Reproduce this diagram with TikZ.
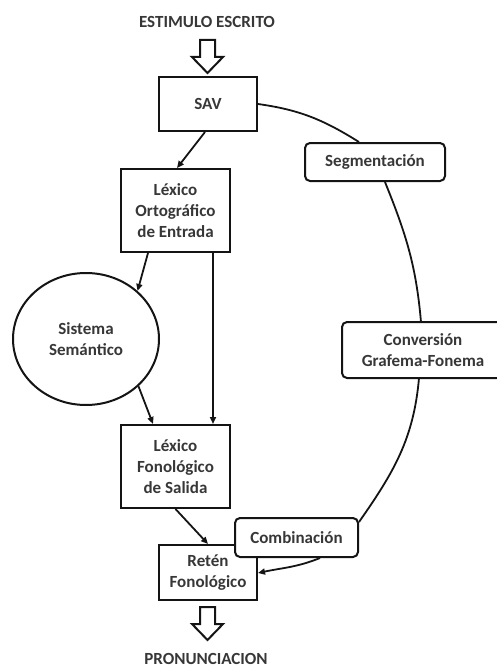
\documentclass[tikz,border=0pt]{standalone}
\usepackage{fontspec}
\setmainfont{Carlito}
\usepackage{tikz}
\usetikzlibrary{arrows.meta, positioning, shapes.geometric}
\definecolor{mydark}{RGB}{20,20,20}
\definecolor{mytext}{RGB}{55,55,55}
\newcommand{\figfont}{\fontsize{17}{20.7}\selectfont\bfseries}
\tikzset{
  block/.style={rectangle, draw=mydark, fill=white, text=mytext,
    align=center, font=\figfont, inner sep=0pt, line width=2pt},
  route/.style={rectangle, draw=mydark, fill=white, text=mytext,
    align=center, font=\figfont, inner sep=0pt, rounded corners=5pt, line width=2pt},
  semnode/.style={ellipse, draw=mydark, fill=white, text=mytext,
    align=center, font=\figfont, inner sep=0pt, line width=2pt},
  caption/.style={text=mytext, font=\figfont, inner sep=0pt},
  hollow/.style={draw=mydark, fill=white, line width=2pt, line join=miter},
  arrow/.style={-{Triangle[length=7pt,width=6pt]}, line width=1.8pt, color=mydark},
  line/.style={line width=1.8pt, color=mydark}
}

\begin{document}
\begin{tikzpicture}[x=1pt, y=-1pt]
  \useasboundingbox (0,0) rectangle (497,669);
  \clip (0,0) rectangle (497,669);

  \node[caption] (stim) at (207,22) {ESTIMULO ESCRITO};
  \node[block, minimum width=98pt, minimum height=54pt] (sav) at (208,104) {SAV};
  \node[block, minimum width=109pt, minimum height=83pt] (lexort) at (175.5,210.5) {Léxico\\Ortográfico\\de Entrada};
  \node[semnode, minimum width=146pt, minimum height=132pt] (sem) at (86,339) {Sistema\\Semántico};
  \node[block, minimum width=109pt, minimum height=83pt] (lexfon) at (175.5,466.5) {Léxico\\Fonológico\\de Salida};
  \node[block, minimum width=98pt, minimum height=55pt] (reten) at (208,572.5) {Retén\\Fonológico};
  \node[caption] (pron) at (206,658.5) {PRONUNCIACION};

  % route for non-lexical reading
  \node[route, minimum width=140pt, minimum height=38pt] (seg) at (375,162) {Segmentación};
  \node[route, draw=none, minimum width=160pt, minimum height=54pt] (conv) at (423,350) {Conversión\\Grafema-Fonema};
  \draw[line width=2pt, color=mydark, rounded corners=5pt]
    ([xshift=30pt]conv.north east) -- (conv.north west) -- (conv.south west) -- ([xshift=30pt]conv.south east);
  \node[route, minimum width=123pt, minimum height=39pt] (comb) at (296.5,537.5) {Combinación};
  \draw[line] (sav.east) to[out=-8, in=148] ([xshift=-16pt]seg.north);
  \draw[line] ([xshift=10pt]seg.south) to[out=-68, in=95] ([xshift=-2pt]conv.north);
  \draw[line] ([xshift=-4pt]conv.south) to[out=-95, in=55] ([yshift=-5pt]comb.north east);
  \draw[arrow] ([xshift=23.5pt]comb.south) to[out=-158, in=12] ([yshift=-0.5pt]reten.east);

  % lexical route
  \draw[arrow] ([xshift=-3pt]sav.south) -- ([xshift=1.5pt]lexort.north);
  \draw[arrow] ([xshift=-27.5pt]lexort.south) -- (sem.43);
  \draw[arrow] ([xshift=37.5pt]lexort.south) -- ([xshift=37.5pt]lexfon.north);
  \draw[arrow] (sem.-42) -- ([xshift=-22.5pt]lexfon.north);
  \draw[arrow] (lexfon.south) -- (reten.north);

  % input and output
  \draw[hollow] (200,40) -- (215,40) -- (215,57) -- (223,57) -- (207.5,73) -- (192,57) -- (200,57) -- cycle;
  \draw[hollow] (200,607) -- (215,607) -- (215,624) -- (223,624) -- (207.5,640) -- (192,624) -- (200,624) -- cycle;
\end{tikzpicture}
\end{document}
